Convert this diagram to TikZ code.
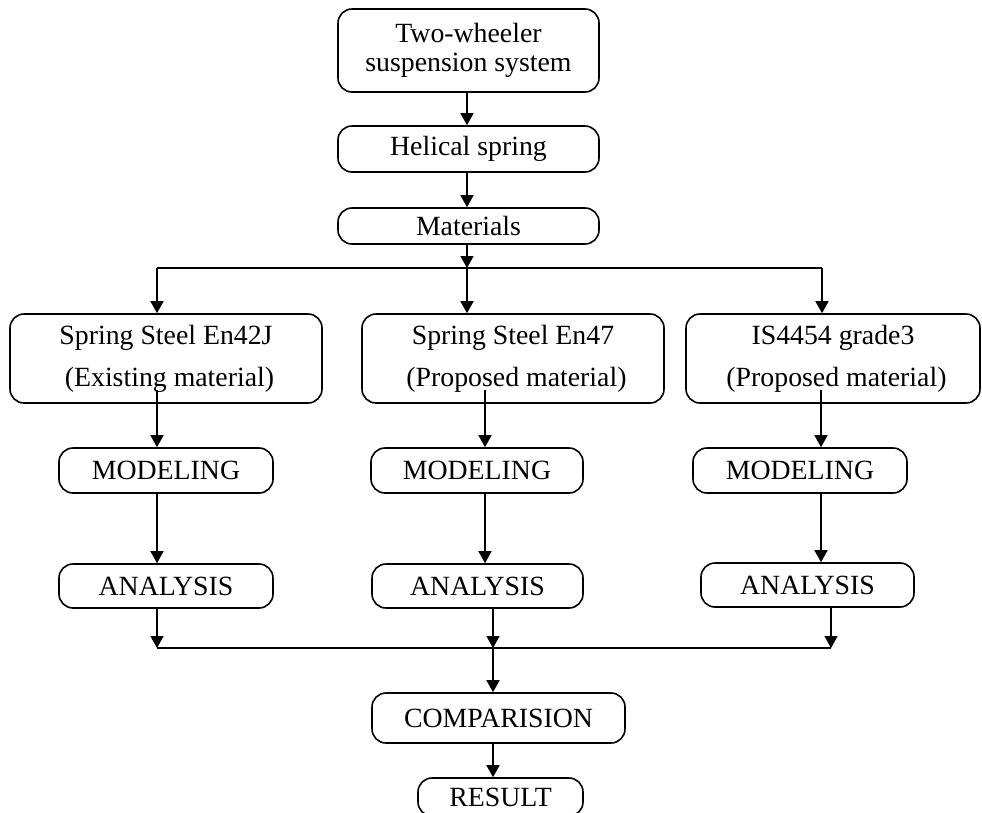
\documentclass[tikz,border=0pt]{standalone}
\usepackage{fontspec}
\setmainfont{Liberation Serif}
\usetikzlibrary{arrows.meta}
\begin{document}
\begin{tikzpicture}[x=1pt,y=-1pt,
    box/.style={draw,line width=1.6pt,rounded corners=14pt,inner sep=0pt,align=center,font=\fontsize{27.8}{29}\selectfont},
    bigbox/.style={box,minimum height=89pt,font=\fontsize{27.8}{42}\selectfont},
    arr/.style={line width=1.6pt,-{Triangle[width=13pt,length=12pt]}},
    ln/.style={line width=1.6pt}]
  \useasboundingbox (0,0) rectangle (982,812);
  \clip (0,0) rectangle (982,812);
  \node[box,minimum width=261pt,minimum height=83pt] (sys) at (468.5,50.5) {Two-wheeler\\suspension system};
  \node[box,minimum width=261pt,minimum height=46pt] (hel) at (468.5,149) {Helical spring};
  \node[box,minimum width=261pt,minimum height=36pt] (mat) at (468.5,226) {Materials};
  \node[bigbox,minimum width=312pt] (lmat) at (166,358.5) {Spring Steel En42J\\ \ (Existing material)};
  \node[bigbox,minimum width=302pt] (mmat) at (513,358.5) {Spring Steel En47\\ \ (Proposed material)};
  \node[bigbox,minimum width=294pt] (rmat) at (833,358.5) {IS4454 grade3\\ \ (Proposed material)};
  \node[box,minimum width=214pt,minimum height=45pt] (lmod) at (166,470.5) {MODELING};
  \node[box,minimum width=212pt,minimum height=45pt] (mmod) at (477,470.5) {MODELING};
  \node[box,minimum width=214pt,minimum height=45pt] (rmod) at (800,470.5) {MODELING};
  \node[box,minimum width=214pt,minimum height=44pt] (lana) at (166,586) {ANALYSIS};
  \node[box,minimum width=211pt,minimum height=44pt] (mana) at (477.5,586) {ANALYSIS};
  \node[box,minimum width=213pt,minimum height=44pt] (rana) at (807.5,585) {ANALYSIS};
  \node[box,minimum width=253pt,minimum height=50pt] (comp) at (498.5,718) {COMPARISION};
  \node[box,minimum width=165pt,minimum height=38pt] (res) at (500.5,797) {RESULT};
  \coordinate (hl) at (157,268);
  \coordinate (hm) at (467,268);
  \coordinate (hr) at (822,268);
  \coordinate (il) at (157,390);
  \coordinate (im) at (485,390);
  \coordinate (ir) at (821,390);
  \coordinate (bl) at (157,648);
  \coordinate (bm) at (493,648);
  \coordinate (br) at (831,648);
  \draw[arr] (sys.south -| hm) -- (hel.north -| hm);
  \draw[arr] (hel.south -| hm) -- (mat.north -| hm);
  \draw[arr] (mat.south -| hm) -- (hm);
  \draw[ln] (hl) -- (hr);
  \draw[arr] (hl) -- (hl |- lmat.north);
  \draw[arr] (hm) -- (hm |- mmat.north);
  \draw[arr] (hr) -- (hr |- rmat.north);
  \draw[arr] (il) -- (il |- lmod.north);
  \draw[arr] (im) -- (im |- mmod.north);
  \draw[arr] (ir) -- (ir |- rmod.north);
  \draw[arr] (lmod.south -| il) -- (lana.north -| il);
  \draw[arr] (mmod.south -| im) -- (mana.north -| im);
  \draw[arr] (rmod.south -| ir) -- (rana.north -| ir);
  \draw[arr] (lana.south -| bl) -- (bl);
  \draw[arr] (mana.south -| bm) -- (bm);
  \draw[arr] (rana.south -| br) -- (br);
  \draw[ln] (bl) -- (br);
  \draw[arr] (bm) -- (bm |- comp.north);
  \draw[arr] (comp.south -| bm) -- (res.north -| bm);
\end{tikzpicture}
\end{document}
